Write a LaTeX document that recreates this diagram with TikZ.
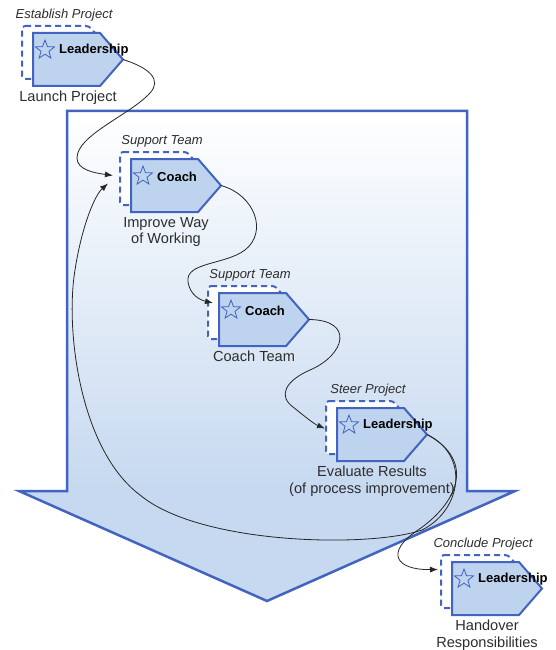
\documentclass[tikz,border=0pt]{standalone}
\usepackage{fontspec}
\setmainfont{Liberation Sans}
\usetikzlibrary{shapes.geometric,arrows.meta,calc}
\definecolor{tagblue}{RGB}{66,99,192}
\definecolor{tagfill}{RGB}{190,211,238}
\definecolor{arrowfill}{RGB}{198,217,240}
\definecolor{txt}{RGB}{45,45,45}
\tikzset{
  bodybox/.style={minimum width=90pt, minimum height=53pt, inner sep=0pt, outer sep=0pt, anchor=north west},
  tagline/.style={draw=tagblue, fill=tagfill, line width=2pt, line join=miter},
  backline/.style={draw=tagblue, fill=white, line width=2pt, dash pattern=on 6pt off 4pt, rounded corners=3pt},
  starmark/.style={star, star points=5, star point ratio=2.4, minimum size=20pt, inner sep=0pt, draw=tagblue, line width=0.8pt},
  roletext/.style={font=\fontsize{13}{15}\selectfont\bfseries, text=black, anchor=west, inner sep=0pt},
  cattext/.style={font=\fontsize{13}{15}\selectfont\itshape, text=txt, inner sep=0pt},
  captext/.style={font=\fontsize{14.6}{16.5}\selectfont, text=txt, align=center, anchor=north, inner sep=0pt},
  flow/.style={draw=black!85, line width=0.8pt, -{Latex[length=8pt,width=6pt]}},
  bigarrow/.style={draw=tagblue, line width=2.5pt, line join=miter},
}
\newcommand\tagbox[6]{%
  \node[bodybox] (#1b) at ({#2-11},{#3-7}) {};
  \path[backline] (#1b.north west) -- ($(#1b.north east)+(-23,0)$) -- (#1b.east)
     -- ($(#1b.south east)+(-23,0)$) -- (#1b.south west) -- cycle;
  \node[bodybox] (#1) at (#2,#3) {};
  \path[tagline] (#1.north west) -- ($(#1.north east)+(-23,0)$) -- (#1.east)
     -- ($(#1.south east)+(-23,0)$) -- (#1.south west) -- cycle;
  \node[starmark] (#1s) at ($(#1.north west)+(12,17)$) {};
  \node[roletext] (#1r) at ($(#1.north west)+(26,17.5)$) {#5};
  \node[cattext] (#1c) at ($(#1.north west)+(31,-18)$) {#4};
  \node[captext] (#1t) at ($(#1.north west)+(35,58)$) {#6};
}
\begin{document}
\begin{tikzpicture}[x=1pt,y=-1pt]
\useasboundingbox (0,0) rectangle (555,650);
% big background arrow
\shade[top color=white, bottom color=arrowfill] (67,111) rectangle (467,491);
\fill[arrowfill] (19,491) -- (515,491) -- (267,601) -- cycle;
\path[bigarrow] (67,111) -- (467,111) -- (467,491) -- (515,491) -- (267,601) -- (19,491) -- (67,491) -- cycle;
% tags
\tagbox{n1}{33}{33}{Establish Project}{Leadership}{Launch Project}
\tagbox{n2}{131}{159}{Support Team}{Coach}{Improve Way\\of Working}
\tagbox{n3}{219}{293}{Support Team}{Coach}{Coach Team}
\tagbox{n4}{337}{408}{Steer Project}{Leadership}{Evaluate Results\\(of process improvement)}
\tagbox{n5}{452}{562}{Conclude Project}{Leadership}{Handover\\Responsibilities}
% connectors
\draw[flow] (n1.east) .. controls (150,68) and (162,80) .. (150,93)
   .. controls (130,115) and (77,135) .. (77,158)
   .. controls (77,170) and (95,173) .. ($(n2b.west)+(-7,-3)$);
\draw[flow] (n2.east) .. controls (255,195) and (268,232) .. (245,250)
   .. controls (225,265) and (185,262) .. (188,282)
   .. controls (190,295) and (200,300) .. ($(n3.north west)+(-6,10)$);
\draw[flow] (n3.east) .. controls (355,320) and (345,355) .. (310,370)
   .. controls (285,381) and (278,396) .. (293,407)
   .. controls (303,415) and (314,424) .. ($(n4b.west)+(-1,1)$);
\draw[flow] (n4.east) .. controls (470,455) and (462,510) .. (422,530)
   .. controls (370,548) and (200,545) .. (140,495)
   .. controls (80,450) and (65,330) .. (75,270)
   .. controls (82,225) and (95,195) .. ($(n2b.west)+(-12,5)$);
\draw[flow] (n4.east) .. controls (478,462) and (455,505) .. (418,530)
   .. controls (385,552) and (395,570) .. ($(n5b.west)+(-3,-12)$);
\end{tikzpicture}
\end{document}
